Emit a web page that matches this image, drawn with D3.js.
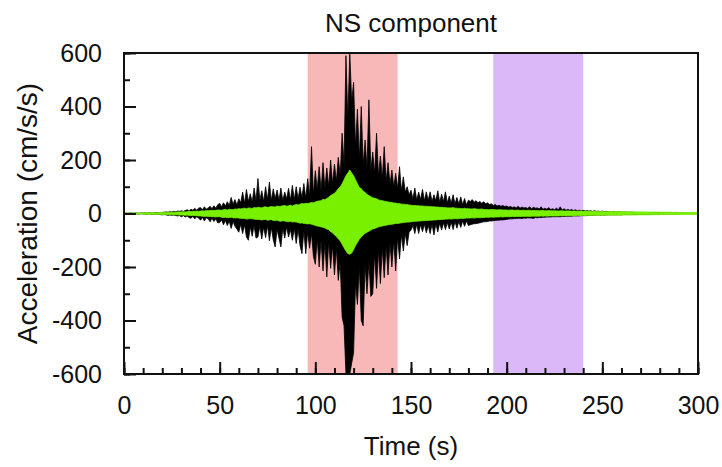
<!DOCTYPE html>
<html>
<head>
<meta charset="utf-8">
<script src="https://cdn.jsdelivr.net/npm/d3@7"></script>
<style>
  body { margin: 0; background: #fff; }
  text { font-family: "Liberation Sans", Arial, sans-serif; fill: #111; }
</style>
</head>
<body>
<div id="chart"></div>
<script>
// one envelope sample per second, 0..300 s
const timeStart = 0
const timeStep = 1

// black trace: positive peak in each second (cm/s/s)
const blackUpper = [
  1,2,1,2,2,1,2,2,1,2,
  2,3,2,3,3,2,3,4,3,3,
  4,5,6,5,7,6,8,7,9,8,
  10,8,11,14,9,16,12,19,13,20,
  22,14,25,16,21,27,18,29,20,33,
  38,25,40,28,44,30,60,35,52,32,
  55,40,80,38,90,45,74,42,95,48,
  131,50,85,45,100,52,118,48,92,55,
  88,50,95,48,80,55,94,50,105,52,
  100,55,98,60,112,58,130,65,250,70,
  160,90,175,85,190,95,170,100,200,110,
  185,120,210,140,300,180,590,350,600,420,
  490,250,390,200,400,180,275,170,425,160,
  230,150,300,140,215,130,250,120,190,110,
  162,100,150,95,175,85,137,80,100,70,
  87,55,95,50,80,52,90,48,81,50,
  81,45,70,48,85,42,72,45,81,40,
  65,38,70,36,60,35,62,33,56,32,
  50,45,52,42,48,40,45,38,44,36,
  40,34,36,30,34,28,31,27,30,26,
  28,24,26,22,25,21,27,20,24,21,
  22,19,25,18,23,20,21,17,25,16,
  20,16,22,15,18,14,20,14,25,13,
  18,12,16,12,15,11,14,10,12,10,
  12,9,11,9,10,8,10,8,9,7,
  9,7,8,7,8,6,7,6,7,6,
  6,5,6,5,5,5,5,4,4,4,
  4,4,4,3,3,3,3,3,3,3,
  3,2,3,2,2,2,2,2,2,2,
  2,2,2,1,2,1,1,1,1,1,
  1
]

// black trace: negative peak in each second
const blackLower = [
  -1,-1,-2,-1,-2,-2,-1,-2,-2,-1,
  -2,-2,-3,-2,-3,-3,-2,-3,-3,-4,
  -5,-4,-5,-7,-6,-7,-6,-8,-9,-8,
  -12,-8,-13,-9,-15,-18,-11,-20,-12,-17,
  -25,-15,-28,-16,-20,-31,-18,-30,-20,-35,
  -34,-24,-42,-26,-45,-28,-56,-30,-48,-58,
  -70,-40,-75,-42,-88,-100,-50,-85,-45,-92,
  -88,-48,-95,-50,-90,-45,-102,-52,-98,-125,
  -60,-92,-125,-55,-92,-50,-88,-60,-100,-55,
  -112,-60,-120,-150,-65,-150,-70,-130,-75,-160,
  -190,-95,-200,-100,-215,-110,-237,-105,-205,-120,
  -230,-130,-250,-180,-387,-420,-600,-600,-600,-560,
  -520,-260,-340,-200,-400,-420,-190,-300,-180,-310,
  -300,-150,-280,-140,-262,-130,-240,-120,-230,-110,
  -200,-100,-215,-90,-170,-80,-140,-75,-120,-70,
  -62,-45,-75,-40,-75,-42,-68,-40,-72,-45,
  -75,-40,-80,-38,-69,-36,-62,-35,-60,-34,
  -58,-32,-60,-30,-55,-30,-52,-28,-48,-28,
  -45,-42,-40,-38,-38,-36,-35,-33,-31,-31,
  -30,-28,-28,-27,-26,-25,-25,-24,-24,-23,
  -22,-21,-20,-20,-19,-19,-18,-18,-19,-17,
  -18,-16,-17,-17,-19,-15,-16,-15,-15,-14,
  -14,-13,-13,-13,-12,-12,-12,-12,-12,-11,
  -11,-11,-10,-10,-10,-9,-9,-9,-9,-8,
  -8,-8,-8,-7,-7,-7,-7,-6,-6,-6,
  -6,-6,-6,-5,-5,-5,-5,-5,-5,-5,
  -5,-4,-4,-4,-4,-4,-4,-4,-4,-3,
  -3,-3,-3,-3,-3,-3,-3,-2,-2,-2,
  -2,-2,-2,-2,-2,-2,-2,-2,-2,-2,
  -2,-1,-1,-1,-1,-1,-1,-1,-1,-1,
  -1
]

// green (filtered) trace, positive and negative peaks per second
const greenUpper = [
  2,2,2,2,2,2,2,2,2,2,
  2,3,3,3,3,3,3,3,3,4,
  4,4,4,5,5,5,5,5,6,6,
  6,7,6,7,8,7,8,8,9,8,
  9,10,9,11,10,11,12,11,12,13,
  13,12,14,15,13,16,15,14,17,16,
  18,17,19,20,18,21,20,19,22,21,
  23,22,21,24,25,23,24,26,25,24,
  28,26,27,29,30,27,29,31,28,31,
  34,32,35,37,36,38,37,39,41,40,
  43,46,47,48,53,51,56,61,67,71,
  76,83,93,99,111,126,141,151,163,151,
  141,126,111,97,93,83,79,71,67,63,
  59,57,55,51,49,48,46,45,43,42,
  41,39,39,37,37,35,35,34,33,32,
  31,30,30,29,29,28,28,27,27,26,
  26,25,25,24,24,23,23,22,22,21,
  21,21,22,20,20,19,19,18,20,18,
  18,17,17,18,17,16,16,17,15,15,
  15,14,15,15,14,13,14,14,13,13,
  13,12,13,13,12,12,13,11,12,12,
  11,12,12,11,11,11,11,10,11,11,
  10,10,11,10,10,10,10,9,10,10,
  9,9,10,9,9,9,9,8,9,9,
  8,8,9,8,8,8,8,8,8,7,
  8,7,7,7,8,7,7,7,7,7,
  7,7,7,6,7,6,6,6,6,6,
  6,6,6,6,6,5,6,5,5,5,
  5,5,5,5,5,5,5,4,5,4,
  4,4,4,4,4,4,4,4,4,4,
  4
]

const greenLower = [
  -2,-2,-2,-2,-2,-2,-2,-2,-2,-2,
  -2,-2,-3,-3,-3,-3,-3,-3,-3,-3,
  -4,-4,-4,-4,-5,-4,-5,-5,-5,-6,
  -6,-6,-7,-6,-7,-8,-7,-8,-8,-9,
  -9,-10,-11,-10,-11,-11,-12,-12,-13,-12,
  -12,-14,-15,-14,-16,-15,-14,-16,-17,-16,
  -17,-18,-19,-19,-21,-20,-19,-20,-21,-22,
  -22,-23,-24,-23,-22,-25,-24,-23,-26,-26,
  -25,-28,-29,-27,-28,-30,-31,-29,-32,-31,
  -32,-34,-36,-35,-37,-37,-39,-38,-40,-42,
  -45,-47,-48,-50,-51,-54,-58,-60,-68,-72,
  -80,-86,-95,-102,-115,-128,-140,-150,-152,-148,
  -135,-120,-108,-96,-88,-80,-74,-70,-66,-62,
  -58,-56,-53,-50,-48,-47,-45,-44,-42,-41,
  -40,-39,-37,-37,-36,-35,-34,-33,-32,-32,
  -31,-30,-29,-29,-28,-28,-27,-27,-26,-26,
  -25,-25,-24,-24,-23,-23,-22,-22,-21,-21,
  -20,-21,-20,-19,-20,-19,-18,-19,-18,-17,
  -17,-17,-16,-17,-16,-15,-16,-15,-15,-14,
  -14,-14,-13,-14,-13,-13,-13,-12,-13,-12,
  -12,-12,-12,-11,-12,-11,-11,-11,-11,-10,
  -11,-10,-11,-10,-10,-10,-10,-10,-9,-10,
  -9,-10,-9,-9,-9,-9,-9,-9,-8,-9,
  -8,-9,-8,-8,-8,-8,-8,-7,-8,-8,
  -7,-8,-7,-7,-7,-7,-7,-7,-7,-6,
  -7,-6,-7,-6,-6,-6,-6,-6,-6,-6,
  -6,-6,-5,-6,-5,-6,-5,-5,-5,-5,
  -5,-5,-5,-5,-5,-5,-4,-5,-4,-5,
  -4,-4,-4,-4,-4,-4,-4,-4,-4,-4,
  -4,-4,-4,-4,-3,-4,-3,-4,-3,-3,
  -3
]

// shaded time windows (s)
const windowStarts = [96, 193]
const windowEnds = [143, 240]
const windowColors = ["#f8b8b8", "#dbb8f8"]

const xMajorTicks = [0, 50, 100, 150, 200, 250, 300]
const xMinorTicks = d3.range(0, 301, 10)
const yMajorTicks = [-600, -400, -200, 0, 200, 400, 600]
const yMinorTicks = d3.range(-600, 601, 100)

const margin = {top: 53, right: 24, bottom: 93, left: 124},
  width = 722 - margin.left - margin.right,
  height = 467 - margin.top - margin.bottom

const svg = d3.select("#chart")
  .append("svg")
    .attr("width", 722)
    .attr("height", 467)
  .append("g")
    .attr("transform", "translate(" + margin.left + "," + margin.top + ")")

const x = d3.scaleLinear().domain([0, 300]).range([0, width])
const y = d3.scaleLinear().domain([-600, 600]).range([height, 0])

svg.append("defs").append("clipPath")
  .attr("id", "plot-clip")
  .append("rect")
  .attr("width", width)
  .attr("height", height)

// Windows
svg.selectAll("rect.window")
  .data(windowStarts)
  .enter()
  .append("rect")
  .classed("window", true)
  .attr("x", d => x(d))
  .attr("y", 0)
  .attr("width", (d, i) => x(windowEnds[i]) - x(d))
  .attr("height", height)
  .attr("fill", (d, i) => windowColors[i])

// Traces: filled between the negative and positive peaks
const envelope = (upper, lower) => d3.area()
  .x((d, i) => x(timeStart + i * timeStep))
  .y0((d, i) => y(lower[i]))
  .y1(d => y(d))(upper)

const traces = svg.append("g").attr("clip-path", "url(#plot-clip)")

traces.append("path")
  .attr("fill", "#000")
  .attr("stroke", "#000")
  .attr("stroke-width", 0.8)
  .attr("d", envelope(blackUpper, blackLower))

traces.append("path")
  .attr("fill", "#78f000")
  .attr("stroke", "#78f000")
  .attr("stroke-width", 0.8)
  .attr("d", envelope(greenUpper, greenLower))

// Axes (ticks point inward)
const fmt = d => String(d)

svg.append("g")
  .attr("transform", "translate(0," + height + ")")
  .call(d3.axisBottom(x).tickValues(xMinorTicks).tickSize(-6).tickFormat(""))
  .call(g => g.select(".domain").remove())

svg.append("g")
  .attr("transform", "translate(0," + height + ")")
  .call(d3.axisBottom(x).tickValues(xMajorTicks).tickSize(-12).tickPadding(22).tickFormat(fmt))
  .call(g => g.select(".domain").remove())
  .call(g => g.selectAll("text").attr("font-size", 25).attr("dy", "0.71em"))

svg.append("g")
  .call(d3.axisLeft(y).tickValues(yMinorTicks).tickSize(-6).tickFormat(""))
  .call(g => g.select(".domain").remove())

svg.append("g")
  .call(d3.axisLeft(y).tickValues(yMajorTicks).tickSize(-12).tickPadding(22).tickFormat(fmt))
  .call(g => g.select(".domain").remove())
  .call(g => g.selectAll("text").attr("font-size", 25))

svg.selectAll(".tick line").attr("stroke", "#111").attr("stroke-width", 2)

// Frame
svg.append("rect")
  .attr("width", width)
  .attr("height", height)
  .attr("fill", "none")
  .attr("stroke", "#111")
  .attr("stroke-width", 2)

// Labels
svg.append("text")
  .attr("x", width / 2)
  .attr("y", -21)
  .attr("text-anchor", "middle")
  .attr("font-size", 26)
  .text("NS component")

svg.append("text")
  .attr("x", width / 2)
  .attr("y", height + 81)
  .attr("text-anchor", "middle")
  .attr("font-size", 26)
  .text("Time (s)")

svg.append("text")
  .attr("transform", "translate(" + (37 - margin.left) + "," + (height / 2) + ") rotate(-90)")
  .attr("text-anchor", "middle")
  .attr("font-size", 28)
  .text("Acceleration (cm/s/s)")
</script>
</body>
</html>
